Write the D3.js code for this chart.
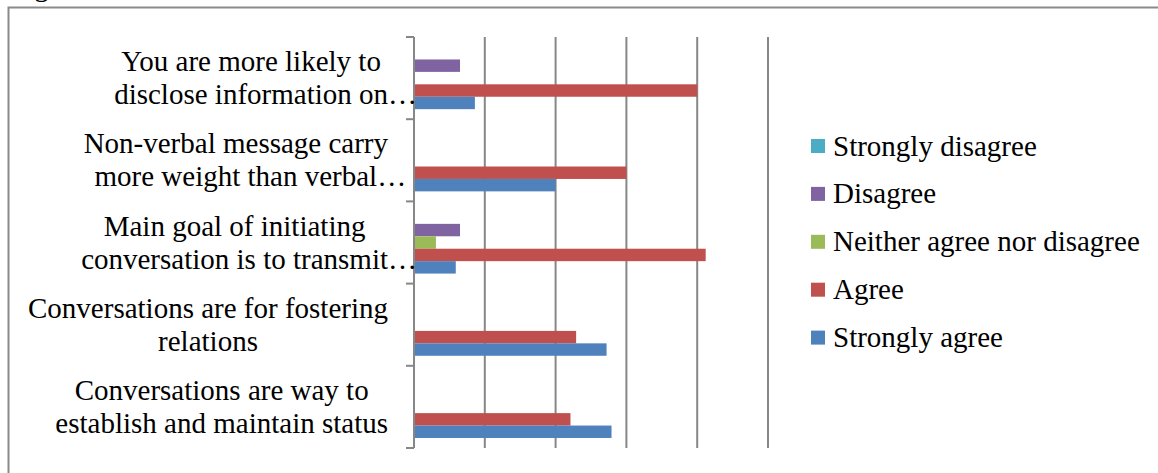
<!DOCTYPE html>
<meta charset="utf-8">
<style>
body { margin: 0; background: #fff; }
.grid line { stroke: #878787; stroke-width: 2px; }
</style>
<body>
<script src="https://d3js.org/d3.v7.min.js"></script>
<script>

// categories (top to bottom), each label split in lines as in the chart
var categories = ["likely", "nonverbal", "maingoal", "fostering", "status"];
var labelLines = [
  ["You are more likely to", "disclose information on…"],
  ["Non-verbal message carry", "more weight than verbal…"],
  ["Main goal of initiating", "conversation is to transmit…"],
  ["Conversations are for fostering", "relations"],
  ["Conversations are way to", "establish and maintain status"]
];

// series, in the order drawn inside a group (top to bottom)
var seriesNames = ["Strongly disagree", "Disagree", "Neither agree nor disagree", "Agree", "Strongly agree"];
var seriesColors = ["#4bacc6", "#8064a2", "#9bbb59", "#c0504d", "#4f81bd"];

// values per series, one per category
var stronglyDisagree = [0, 0, 0, 0, 0];
var disagree         = [6.5, 0, 6.5, 0, 0];
var neither          = [0, 0, 3.1, 0, 0];
var agree            = [40, 30, 41.2, 22.9, 22.1];
var stronglyAgree    = [8.6, 20, 5.9, 27.2, 27.9];
var seriesValues = [stronglyDisagree, disagree, neither, agree, stronglyAgree];

var xTicks = [0, 10, 20, 30, 40, 50];

var width = 1158, height = 473;
var plot = {left: 414, right: 768, top: 37, bottom: 448};
var serif = "'Liberation Serif', 'Times New Roman', 'DejaVu Serif', serif";
var fs = "29px";

var svg = d3.select("body").append("svg")
    .attr("width", width)
    .attr("height", height)
    .style("font-family", serif);

// outer chart border
svg.append("rect")
    .attr("x", 8.5).attr("y", 7.5)
    .attr("width", width + 20).attr("height", height + 20)
    .attr("fill", "none")
    .attr("stroke", "#8a8a8a")
    .attr("stroke-width", 2);

// caption above the chart, only its descender is visible
svg.append("text")
    .attr("x", 10).attr("y", -4)
    .style("font-size", fs)
    .text("Figure");

var x = d3.scaleLinear().domain([0, 50]).range([plot.left, plot.right]);
var y0 = d3.scaleBand().domain(categories).range([plot.top, plot.bottom]);
var pad = y0.bandwidth() * 0.122;
var y1 = d3.scaleBand().domain(seriesNames).range([pad, y0.bandwidth() - pad]);

// vertical gridlines
svg.append("g")
    .attr("class", "grid")
    .selectAll("line")
    .data(xTicks.slice(1))
    .enter().append("line")
    .attr("x1", function(d) { return x(d); })
    .attr("x2", function(d) { return x(d); })
    .attr("y1", plot.top)
    .attr("y2", plot.bottom);

// bars
var groups = svg.append("g").selectAll("g")
    .data(categories)
    .enter().append("g")
    .attr("transform", function(d) { return "translate(0," + y0(d) + ")"; });

groups.selectAll("rect")
    .data(function(d, i) {
      return seriesNames.map(function(s, j) {
        return {series: s, value: seriesValues[j][i], color: seriesColors[j]};
      });
    })
    .enter().append("rect")
    .attr("x", x(0))
    .attr("y", function(d) { return y1(d.series); })
    .attr("width", function(d) { return x(d.value) - x(0); })
    .attr("height", y1.bandwidth())
    .attr("fill", function(d) { return d.color; });

// category axis with ticks on band boundaries
var axis = svg.append("g").attr("class", "grid");
axis.append("line")
    .attr("x1", plot.left).attr("x2", plot.left)
    .attr("y1", plot.top).attr("y2", plot.bottom);
var bounds = categories.map(function(d) { return y0(d); }).concat([plot.bottom]);
axis.selectAll(".tk")
    .data(bounds)
    .enter().append("line")
    .attr("class", "tk")
    .attr("x1", plot.left - 8).attr("x2", plot.left)
    .attr("y1", function(d) { return d; })
    .attr("y2", function(d) { return d; });

// category labels: lines centred in a block right-aligned near the axis
var labelRight = 388, lineGap = 33;
categories.forEach(function(c, i) {
  var lines = labelLines[i];
  var cy = y0(c) + y0.bandwidth() / 2;
  var g = svg.append("g");
  var texts = lines.map(function(l, k) {
    var clean = l.replace("…", "");
    return g.append("text")
        .style("font-size", fs)
        .attr("text-anchor", "middle")
        .attr("y", cy + (k - (lines.length - 1) / 2) * lineGap)
        .attr("dy", "0.33em")
        .text(clean);
  });
  var blockW = d3.max(texts, function(t) { return t.node().getComputedTextLength(); });
  var cx = labelRight - blockW / 2;
  texts.forEach(function(t, k) {
    t.attr("x", cx);
    if (lines[k].indexOf("…") >= 0) {
      g.append("text")
          .style("font-size", fs)
          .attr("x", cx + t.node().getComputedTextLength() / 2)
          .attr("y", t.attr("y"))
          .attr("dy", "0.33em")
          .text("…");
    }
  });
});

// legend
var legend = svg.append("g").selectAll("g")
    .data(seriesNames)
    .enter().append("g")
    .attr("transform", function(d, i) { return "translate(811," + (146 + i * 47.9) + ")"; });

legend.append("rect")
    .attr("y", -7)
    .attr("width", 14).attr("height", 14)
    .attr("fill", function(d, i) { return seriesColors[i]; });

legend.append("text")
    .attr("x", 22)
    .attr("dy", "0.33em")
    .style("font-size", fs)
    .text(function(d) { return d; });

</script>
</body>
